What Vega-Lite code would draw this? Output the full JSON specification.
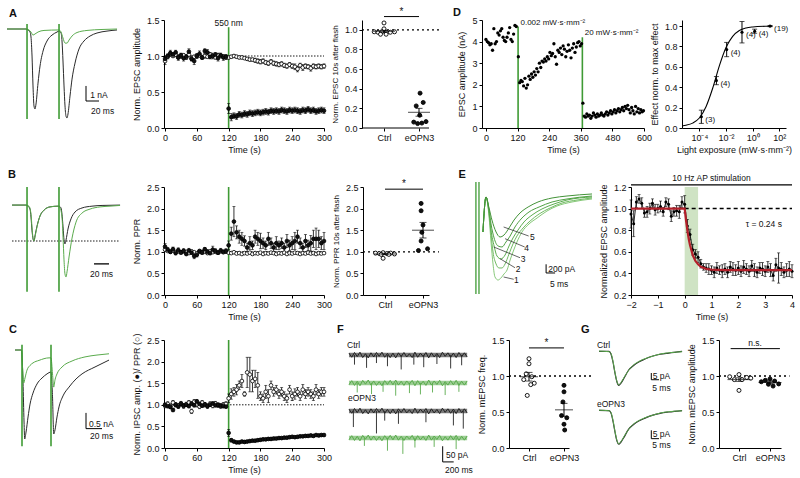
{
"$schema":"https://vega.github.io/schema/vega-lite/v6.json",
"padding":{"left":5,"top":0,"right":0,"bottom":0},
"config":{"font":"Liberation Sans","view":{"stroke":null},
"axis":{"grid":false,"domainColor":"#000","tickColor":"#000","labelColor":"#111","titleColor":"#111","labelFontSize":9,"titleFontSize":9,"titleFontWeight":"normal","tickSize":3,"labelPadding":2,"titlePadding":3,"domainWidth":1,"tickWidth":1,"labelFlush":false,"labelOverlap":false},
"axisY":{"titlePadding":5},
"text":{"fontSize":8.5,"color":"#111"}},
"datasets":{
"atrb":[{"t":0,"v":0},{"t":29.2,"v":0},{"t":32.3,"v":-0.06},{"t":35.4,"v":-0.19},{"t":36.9,"v":-0.5},{"t":38.5,"v":-1.69},{"t":40,"v":-3.56},{"t":41.5,"v":-4.81},{"t":43.1,"v":-5},{"t":44.6,"v":-4.69},{"t":47.7,"v":-3.38},{"t":50.8,"v":-2.31},{"t":55.4,"v":-1.38},{"t":61.5,"v":-0.75},{"t":69.2,"v":-0.38},{"t":76.9,"v":-0.19},{"t":80,"v":-0.13},{"t":83.1,"v":-0.25},{"t":84.6,"v":-0.75},{"t":86.1,"v":-2},{"t":87.7,"v":-3.56},{"t":89.2,"v":-4.81},{"t":90.7,"v":-5.44},{"t":92.3,"v":-5.56},{"t":93.8,"v":-5.31},{"t":96.9,"v":-4.19},{"t":100,"v":-3.13},{"t":104.6,"v":-2.13},{"t":110.7,"v":-1.25},{"t":118.4,"v":-0.75},{"t":127.7,"v":-0.44},{"t":138.4,"v":-0.25},{"t":153.8,"v":-0.13},{"t":169.2,"v":-0.06}],
"atrg":[{"t":0,"v":0},{"t":29.2,"v":0},{"t":33.8,"v":-0.06},{"t":36.9,"v":-0.19},{"t":40,"v":-0.38},{"t":43.1,"v":-0.31},{"t":47.7,"v":-0.19},{"t":56.9,"v":-0.09},{"t":80,"v":-0.06},{"t":83.1,"v":-0.19},{"t":86.1,"v":-0.56},{"t":89.2,"v":-0.88},{"t":92.3,"v":-0.88},{"t":95.4,"v":-0.69},{"t":100,"v":-0.44},{"t":107.7,"v":-0.22},{"t":123,"v":-0.09},{"t":146.1,"v":-0.03},{"t":169.2,"v":0}],
"btrb":[{"t":6.7,"v":-0.01},{"t":25.3,"v":-0.01},{"t":28,"v":-0.04},{"t":30.7,"v":-0.12},{"t":32,"v":-0.34},{"t":33.3,"v":-0.7},{"t":34.7,"v":-0.94},{"t":36,"v":-1},{"t":37.3,"v":-0.86},{"t":40,"v":-0.59},{"t":44,"v":-0.31},{"t":49.3,"v":-0.15},{"t":57.3,"v":-0.06},{"t":68,"v":-0.04},{"t":69.3,"v":-0.04},{"t":72,"v":-0.09},{"t":73.3,"v":-0.26},{"t":74.7,"v":-0.61},{"t":76,"v":-0.97},{"t":77.3,"v":-1.08},{"t":78.7,"v":-0.97},{"t":81.3,"v":-0.67},{"t":85.3,"v":-0.39},{"t":90.7,"v":-0.2},{"t":100,"v":-0.09},{"t":113.3,"v":-0.04},{"t":126.7,"v":-0.02},{"t":150.7,"v":-0.01}],
"btrg":[{"t":6.7,"v":-0.01},{"t":25.3,"v":-0.01},{"t":29.3,"v":-0.04},{"t":32,"v":-0.26},{"t":33.3,"v":-0.61},{"t":34.7,"v":-0.92},{"t":36,"v":-1},{"t":37.3,"v":-0.89},{"t":40,"v":-0.61},{"t":44,"v":-0.31},{"t":49.3,"v":-0.15},{"t":57.3,"v":-0.06},{"t":68,"v":-0.04},{"t":70.7,"v":-0.09},{"t":73.3,"v":-0.34},{"t":74.7,"v":-0.89},{"t":76,"v":-1.52},{"t":77.3,"v":-1.91},{"t":78.7,"v":-1.99},{"t":80,"v":-1.85},{"t":82.7,"v":-1.44},{"t":86.7,"v":-0.92},{"t":92,"v":-0.48},{"t":100,"v":-0.23},{"t":110.7,"v":-0.12},{"t":124,"v":-0.06},{"t":137.3,"v":-0.04},{"t":150.7,"v":-0.02}],
"ctrb":[{"t":10,"v":0},{"t":18.1,"v":0},{"t":20,"v":-1.02},{"t":21.3,"v":-2.29},{"t":22.1,"v":-2.83},{"t":23.8,"v":-2.61},{"t":26.3,"v":-2.13},{"t":28.8,"v":-1.72},{"t":32.5,"v":-1.37},{"t":37.5,"v":-1.08},{"t":43.8,"v":-0.89},{"t":50,"v":-0.76},{"t":55,"v":-0.7},{"t":56.9,"v":-1.49},{"t":58.4,"v":-2.67},{"t":60,"v":-2.54},{"t":62.5,"v":-2.13},{"t":65,"v":-1.81},{"t":70,"v":-1.46},{"t":77.5,"v":-1.18},{"t":86.3,"v":-0.92},{"t":93.8,"v":-0.76},{"t":110,"v":-0.54},{"t":127.5,"v":-0.32}],
"ctrg":[{"t":10,"v":0},{"t":18.1,"v":0},{"t":19.4,"v":-0.54},{"t":20.9,"v":-1.05},{"t":22.5,"v":-0.89},{"t":25,"v":-0.64},{"t":28.8,"v":-0.49},{"t":32.5,"v":-0.41},{"t":40,"v":-0.33},{"t":52.5,"v":-0.25},{"t":55,"v":-0.25},{"t":56.9,"v":-0.76},{"t":58.4,"v":-1.18},{"t":60,"v":-0.95},{"t":62.5,"v":-0.76},{"t":68.8,"v":-0.54},{"t":81.3,"v":-0.35},{"t":97.5,"v":-0.22},{"t":112.5,"v":-0.16},{"t":127.5,"v":-0.12}],
"etr":[
{"k":"1","t":8.3,"v":-777},{"k":"1","t":10,"v":0},{"k":"1","t":11.7,"v":-444},{"k":"1","t":12.8,"v":-999},{"k":"1","t":13.9,"v":-1487},{"k":"1","t":15,"v":-1776},{"k":"1","t":16.7,"v":-1843},{"k":"1","t":18.3,"v":-1798},{"k":"1","t":20,"v":-1710},{"k":"1","t":21.7,"v":-1621},{"k":"1","t":23.4,"v":-1399},{"k":"1","t":25,"v":-1221},{"k":"1","t":27.2,"v":-999},{"k":"1","t":30,"v":-777},{"k":"1","t":33.9,"v":-599},{"k":"1","t":38.4,"v":-466},{"k":"1","t":43.9,"v":-311},{"k":"1","t":49.5,"v":-200},{"k":"1","t":57.8,"v":-111},{"k":"1","t":68.9,"v":-44},
{"k":"2","t":8.3,"v":-777},{"k":"2","t":10,"v":0},{"k":"2","t":11.7,"v":-377},{"k":"2","t":12.8,"v":-821},{"k":"2","t":13.9,"v":-1221},{"k":"2","t":15.6,"v":-1487},{"k":"2","t":17.2,"v":-1576},{"k":"2","t":18.9,"v":-1576},{"k":"2","t":20.6,"v":-1487},{"k":"2","t":22.8,"v":-1265},{"k":"2","t":25,"v":-1043},{"k":"2","t":27.2,"v":-866},{"k":"2","t":30.6,"v":-688},{"k":"2","t":34.5,"v":-533},{"k":"2","t":39.5,"v":-377},{"k":"2","t":45.6,"v":-244},{"k":"2","t":52.3,"v":-133},{"k":"2","t":60.6,"v":-67},{"k":"2","t":68.9,"v":-22},
{"k":"3","t":8.3,"v":-777},{"k":"3","t":10,"v":0},{"k":"3","t":11.7,"v":-333},{"k":"3","t":12.8,"v":-733},{"k":"3","t":14.5,"v":-1088},{"k":"3","t":16.1,"v":-1310},{"k":"3","t":18.3,"v":-1376},{"k":"3","t":20.6,"v":-1288},{"k":"3","t":22.8,"v":-1088},{"k":"3","t":25,"v":-910},{"k":"3","t":27.8,"v":-733},{"k":"3","t":31.1,"v":-555},{"k":"3","t":35.6,"v":-400},{"k":"3","t":41.1,"v":-266},{"k":"3","t":47.8,"v":-155},{"k":"3","t":55,"v":-67},{"k":"3","t":68.9,"v":0},
{"k":"4","t":8.3,"v":-777},{"k":"4","t":10,"v":0},{"k":"4","t":11.7,"v":-289},{"k":"4","t":12.8,"v":-599},{"k":"4","t":14.5,"v":-910},{"k":"4","t":16.7,"v":-1088},{"k":"4","t":18.9,"v":-1110},{"k":"4","t":21.1,"v":-999},{"k":"4","t":23.4,"v":-866},{"k":"4","t":26.1,"v":-666},{"k":"4","t":29.5,"v":-488},{"k":"4","t":33.9,"v":-333},{"k":"4","t":39.5,"v":-222},{"k":"4","t":46.7,"v":-111},{"k":"4","t":55,"v":-44},{"k":"4","t":68.9,"v":22},
{"k":"5","t":8.3,"v":-777},{"k":"5","t":10,"v":0},{"k":"5","t":11.7,"v":-244},{"k":"5","t":13.3,"v":-511},{"k":"5","t":15.6,"v":-777},{"k":"5","t":17.8,"v":-888},{"k":"5","t":20,"v":-844},{"k":"5","t":22.8,"v":-688},{"k":"5","t":25.6,"v":-511},{"k":"5","t":28.9,"v":-355},{"k":"5","t":33.4,"v":-222},{"k":"5","t":38.9,"v":-111},{"k":"5","t":46.7,"v":-22},{"k":"5","t":55,"v":22},{"k":"5","t":68.9,"v":67}],
"ftrb":[
{"k":"c","t":200,"v":-41},{"k":"c","t":250,"v":-54},{"k":"c","t":300,"v":-39},{"k":"c","t":350,"v":-52},{"k":"c","t":400,"v":-38},{"k":"c","t":450,"v":-55},{"k":"c","t":500,"v":-43},{"k":"c","t":550,"v":-56},{"k":"c","t":600,"v":-40},{"k":"c","t":650,"v":-53},{"k":"c","t":700,"v":-39},{"k":"c","t":750,"v":-51},{"k":"c","t":800,"v":-38},{"k":"c","t":850,"v":-54},{"k":"c","t":900,"v":-42},{"k":"c","t":950,"v":-55},{"k":"c","t":1000,"v":-41},{"k":"c","t":1050,"v":-56},{"k":"c","t":1100,"v":-40},{"k":"c","t":1150,"v":-52},{"k":"c","t":1200,"v":-39},{"k":"c","t":1250,"v":-53},{"k":"c","t":1300,"v":-43},{"k":"c","t":1350,"v":-55},{"k":"c","t":1400,"v":-38},{"k":"c","t":1450,"v":-54},{"k":"c","t":1500,"v":-41},{"k":"c","t":1550,"v":-52},{"k":"c","t":1600,"v":-39},{"k":"c","t":1650,"v":-56},{"k":"c","t":1700,"v":-40},{"k":"c","t":1750,"v":-53},{"k":"c","t":1800,"v":-42},{"k":"c","t":1850,"v":-55},{"k":"c","t":1900,"v":-38},{"k":"c","t":1950,"v":-51},{"k":"c","t":2000,"v":-40},{"k":"c","t":2050,"v":-54},{"k":"c","t":2100,"v":-41},{"k":"c","t":2150,"v":-55},{"k":"c","t":2200,"v":-39},{"k":"c","t":2250,"v":-52},{"k":"c","t":2300,"v":-40},{"k":"c","t":2350,"v":-53},
{"k":"e","t":200,"v":-216},{"k":"e","t":250,"v":-229},{"k":"e","t":300,"v":-214},{"k":"e","t":350,"v":-227},{"k":"e","t":400,"v":-213},{"k":"e","t":450,"v":-230},{"k":"e","t":500,"v":-218},{"k":"e","t":550,"v":-231},{"k":"e","t":600,"v":-215},{"k":"e","t":650,"v":-228},{"k":"e","t":700,"v":-214},{"k":"e","t":750,"v":-226},{"k":"e","t":800,"v":-213},{"k":"e","t":850,"v":-229},{"k":"e","t":900,"v":-217},{"k":"e","t":950,"v":-230},{"k":"e","t":1000,"v":-216},{"k":"e","t":1050,"v":-231},{"k":"e","t":1100,"v":-215},{"k":"e","t":1150,"v":-227},{"k":"e","t":1200,"v":-214},{"k":"e","t":1250,"v":-228},{"k":"e","t":1300,"v":-218},{"k":"e","t":1350,"v":-230},{"k":"e","t":1400,"v":-213},{"k":"e","t":1450,"v":-229},{"k":"e","t":1500,"v":-216},{"k":"e","t":1550,"v":-227},{"k":"e","t":1600,"v":-214},{"k":"e","t":1650,"v":-231},{"k":"e","t":1700,"v":-215},{"k":"e","t":1750,"v":-228},{"k":"e","t":1800,"v":-217},{"k":"e","t":1850,"v":-230},{"k":"e","t":1900,"v":-213},{"k":"e","t":1950,"v":-226},{"k":"e","t":2000,"v":-215},{"k":"e","t":2050,"v":-229},{"k":"e","t":2100,"v":-216},{"k":"e","t":2150,"v":-230},{"k":"e","t":2200,"v":-214},{"k":"e","t":2250,"v":-227},{"k":"e","t":2300,"v":-215},{"k":"e","t":2350,"v":-228}],
"ftrg":[
{"k":"c","t":200,"v":-140},{"k":"c","t":250,"v":-127},{"k":"c","t":300,"v":-142},{"k":"c","t":350,"v":-129},{"k":"c","t":400,"v":-143},{"k":"c","t":450,"v":-126},{"k":"c","t":500,"v":-138},{"k":"c","t":550,"v":-125},{"k":"c","t":600,"v":-141},{"k":"c","t":650,"v":-128},{"k":"c","t":700,"v":-142},{"k":"c","t":750,"v":-130},{"k":"c","t":800,"v":-143},{"k":"c","t":850,"v":-127},{"k":"c","t":900,"v":-139},{"k":"c","t":950,"v":-126},{"k":"c","t":1000,"v":-140},{"k":"c","t":1050,"v":-125},{"k":"c","t":1100,"v":-141},{"k":"c","t":1150,"v":-129},{"k":"c","t":1200,"v":-142},{"k":"c","t":1250,"v":-128},{"k":"c","t":1300,"v":-138},{"k":"c","t":1350,"v":-126},{"k":"c","t":1400,"v":-143},{"k":"c","t":1450,"v":-127},{"k":"c","t":1500,"v":-140},{"k":"c","t":1550,"v":-129},{"k":"c","t":1600,"v":-142},{"k":"c","t":1650,"v":-125},{"k":"c","t":1700,"v":-141},{"k":"c","t":1750,"v":-128},{"k":"c","t":1800,"v":-139},{"k":"c","t":1850,"v":-126},{"k":"c","t":1900,"v":-143},{"k":"c","t":1950,"v":-130},{"k":"c","t":2000,"v":-141},{"k":"c","t":2050,"v":-127},{"k":"c","t":2100,"v":-140},{"k":"c","t":2150,"v":-126},{"k":"c","t":2200,"v":-142},{"k":"c","t":2250,"v":-129},{"k":"c","t":2300,"v":-141},{"k":"c","t":2350,"v":-128},
{"k":"e","t":200,"v":-312},{"k":"e","t":250,"v":-299},{"k":"e","t":300,"v":-314},{"k":"e","t":350,"v":-301},{"k":"e","t":400,"v":-315},{"k":"e","t":450,"v":-298},{"k":"e","t":500,"v":-310},{"k":"e","t":550,"v":-297},{"k":"e","t":600,"v":-313},{"k":"e","t":650,"v":-300},{"k":"e","t":700,"v":-314},{"k":"e","t":750,"v":-302},{"k":"e","t":800,"v":-315},{"k":"e","t":850,"v":-299},{"k":"e","t":900,"v":-311},{"k":"e","t":950,"v":-298},{"k":"e","t":1000,"v":-312},{"k":"e","t":1050,"v":-297},{"k":"e","t":1100,"v":-313},{"k":"e","t":1150,"v":-301},{"k":"e","t":1200,"v":-314},{"k":"e","t":1250,"v":-300},{"k":"e","t":1300,"v":-310},{"k":"e","t":1350,"v":-298},{"k":"e","t":1400,"v":-315},{"k":"e","t":1450,"v":-299},{"k":"e","t":1500,"v":-312},{"k":"e","t":1550,"v":-301},{"k":"e","t":1600,"v":-314},{"k":"e","t":1650,"v":-297},{"k":"e","t":1700,"v":-313},{"k":"e","t":1750,"v":-300},{"k":"e","t":1800,"v":-311},{"k":"e","t":1850,"v":-298},{"k":"e","t":1900,"v":-315},{"k":"e","t":1950,"v":-302},{"k":"e","t":2000,"v":-313},{"k":"e","t":2050,"v":-299},{"k":"e","t":2100,"v":-312},{"k":"e","t":2150,"v":-298},{"k":"e","t":2200,"v":-314},{"k":"e","t":2250,"v":-301},{"k":"e","t":2300,"v":-313},{"k":"e","t":2350,"v":-300}],
"fspb":[{"t":300,"b":-47,"v":-77},{"t":520,"b":-47,"v":-87},{"t":700,"b":-47,"v":-72},{"t":900,"b":-47,"v":-82},{"t":1150,"b":-47,"v":-92},{"t":1380,"b":-47,"v":-77},{"t":1560,"b":-47,"v":-85},{"t":1800,"b":-47,"v":-75},{"t":2050,"b":-47,"v":-89},{"t":2250,"b":-47,"v":-79},{"t":280,"b":-222,"v":-272},{"t":700,"b":-222,"v":-292},{"t":850,"b":-222,"v":-252},{"t":1100,"b":-222,"v":-262},{"t":1600,"b":-222,"v":-257},{"t":2100,"b":-222,"v":-267},{"t":2280,"b":-222,"v":-277}],
"fspg":[{"t":350,"b":-134,"v":-164},{"t":610,"b":-134,"v":-169},{"t":820,"b":-134,"v":-162},{"t":1050,"b":-134,"v":-174},{"t":1300,"b":-134,"v":-166},{"t":1500,"b":-134,"v":-170},{"t":1720,"b":-134,"v":-164},{"t":1950,"b":-134,"v":-172},{"t":2200,"b":-134,"v":-162},{"t":480,"b":-306,"v":-331},{"t":900,"b":-306,"v":-346},{"t":1180,"b":-306,"v":-356},{"t":1400,"b":-306,"v":-336},{"t":1750,"b":-306,"v":-334},{"t":2150,"b":-306,"v":-341}],
"gtrb":[{"k":"c","t":10.4,"v":-8.5},{"k":"c","t":16.9,"v":-8.6},{"k":"c","t":18.2,"v":-10.5},{"k":"c","t":19.5,"v":-16.5},{"k":"c","t":20.8,"v":-24.8},{"k":"c","t":22.1,"v":-31.5},{"k":"c","t":23.2,"v":-34},{"k":"c","t":24.7,"v":-32.3},{"k":"c","t":26.7,"v":-28.5},{"k":"c","t":29.7,"v":-22.5},{"k":"c","t":32.5,"v":-19.5},{"k":"c","t":36.2,"v":-16.5},{"k":"c","t":40.3,"v":-14.3},{"k":"c","t":44.9,"v":-12.2},{"k":"c","t":50.1,"v":-10.7},{"k":"c","t":55.7,"v":-9.8},{"k":"c","t":64.4,"v":-8.6},
{"k":"e","t":10.4,"v":-52.8},{"k":"e","t":16.9,"v":-52.9},{"k":"e","t":18.2,"v":-54.8},{"k":"e","t":19.5,"v":-60.8},{"k":"e","t":20.8,"v":-69},{"k":"e","t":22.1,"v":-75.8},{"k":"e","t":23.2,"v":-78.2},{"k":"e","t":24.7,"v":-76.5},{"k":"e","t":26.7,"v":-72.8},{"k":"e","t":29.7,"v":-66.8},{"k":"e","t":32.5,"v":-63.8},{"k":"e","t":36.2,"v":-60.8},{"k":"e","t":40.3,"v":-58.6},{"k":"e","t":44.9,"v":-56.5},{"k":"e","t":50.1,"v":-55},{"k":"e","t":55.7,"v":-54},{"k":"e","t":64.4,"v":-52.9}],
"gtrg":[{"k":"c","t":10.4,"v":-8.3},{"k":"c","t":16.9,"v":-8.8},{"k":"c","t":18.2,"v":-10.2},{"k":"c","t":19.5,"v":-16},{"k":"c","t":20.8,"v":-24.5},{"k":"c","t":22.1,"v":-31.2},{"k":"c","t":23.2,"v":-33.7},{"k":"c","t":24.7,"v":-32},{"k":"c","t":26.7,"v":-28},{"k":"c","t":29.7,"v":-22.8},{"k":"c","t":32.5,"v":-19},{"k":"c","t":36.2,"v":-16.2},{"k":"c","t":40.3,"v":-14},{"k":"c","t":44.9,"v":-12.3},{"k":"c","t":50.1,"v":-10.5},{"k":"c","t":55.7,"v":-9.6},{"k":"c","t":64.4,"v":-8.8},
{"k":"e","t":10.4,"v":-52.6},{"k":"e","t":16.9,"v":-53.1},{"k":"e","t":18.2,"v":-54.5},{"k":"e","t":19.5,"v":-60.3},{"k":"e","t":20.8,"v":-68.6},{"k":"e","t":22.1,"v":-75.4},{"k":"e","t":23.2,"v":-77.9},{"k":"e","t":24.7,"v":-76.2},{"k":"e","t":26.7,"v":-72.3},{"k":"e","t":29.7,"v":-67},{"k":"e","t":32.5,"v":-63.3},{"k":"e","t":36.2,"v":-60.5},{"k":"e","t":40.3,"v":-58.3},{"k":"e","t":44.9,"v":-56.6},{"k":"e","t":50.1,"v":-54.8},{"k":"e","t":55.7,"v":-53.8},{"k":"e","t":64.4,"v":-53.1}],
"ta":[
{"t":0,"g":"c","v":0.93,"e":0.05},{"t":5,"g":"c","v":0.99,"e":0.03},{"t":10,"g":"c","v":1.03,"e":0.03},{"t":15,"g":"c","v":1.0,"e":0.02},{"t":20,"g":"c","v":1.02,"e":0.03},{"t":25,"g":"c","v":0.98,"e":0.02},{"t":30,"g":"c","v":1.0,"e":0.03},{"t":35,"g":"c","v":1.01,"e":0.02},{"t":40,"g":"c","v":0.98,"e":0.03},{"t":45,"g":"c","v":1.02,"e":0.02},{"t":50,"g":"c","v":0.97,"e":0.03},{"t":55,"g":"c","v":0.99,"e":0.02},{"t":60,"g":"c","v":1.0,"e":0.03},{"t":65,"g":"c","v":1.01,"e":0.02},{"t":70,"g":"c","v":0.98,"e":0.02},{"t":75,"g":"c","v":1.0,"e":0.03},{"t":80,"g":"c","v":0.99,"e":0.02},{"t":85,"g":"c","v":1.02,"e":0.03},{"t":90,"g":"c","v":1.0,"e":0.02},{"t":95,"g":"c","v":0.98,"e":0.02},{"t":100,"g":"c","v":1.01,"e":0.03},{"t":105,"g":"c","v":1.0,"e":0.02},{"t":110,"g":"c","v":0.99,"e":0.02},{"t":115,"g":"c","v":0.98,"e":0.03},
{"t":120,"g":"c","v":0.98,"e":0.02},{"t":125,"g":"c","v":0.99,"e":0.02},{"t":130,"g":"c","v":1.0,"e":0.02},{"t":135,"g":"c","v":0.99,"e":0.02},{"t":140,"g":"c","v":0.98,"e":0.02},{"t":145,"g":"c","v":0.98,"e":0.02},{"t":150,"g":"c","v":0.97,"e":0.02},{"t":155,"g":"c","v":0.96,"e":0.02},{"t":160,"g":"c","v":0.95,"e":0.02},{"t":165,"g":"c","v":0.95,"e":0.02},{"t":170,"g":"c","v":0.94,"e":0.03},{"t":175,"g":"c","v":0.93,"e":0.03},{"t":180,"g":"c","v":0.92,"e":0.03},{"t":185,"g":"c","v":0.93,"e":0.03},{"t":190,"g":"c","v":0.91,"e":0.03},{"t":195,"g":"c","v":0.9,"e":0.03},{"t":200,"g":"c","v":0.92,"e":0.03},{"t":205,"g":"c","v":0.9,"e":0.03},{"t":210,"g":"c","v":0.89,"e":0.03},{"t":215,"g":"c","v":0.88,"e":0.03},{"t":220,"g":"c","v":0.89,"e":0.03},{"t":225,"g":"c","v":0.87,"e":0.03},{"t":230,"g":"c","v":0.86,"e":0.03},{"t":235,"g":"c","v":0.88,"e":0.03},{"t":240,"g":"c","v":0.86,"e":0.03},{"t":245,"g":"c","v":0.85,"e":0.04},{"t":250,"g":"c","v":0.82,"e":0.04},{"t":255,"g":"c","v":0.87,"e":0.03},{"t":260,"g":"c","v":0.84,"e":0.04},{"t":265,"g":"c","v":0.86,"e":0.03},{"t":270,"g":"c","v":0.85,"e":0.03},{"t":275,"g":"c","v":0.83,"e":0.04},{"t":280,"g":"c","v":0.86,"e":0.03},{"t":285,"g":"c","v":0.85,"e":0.03},{"t":290,"g":"c","v":0.86,"e":0.03},{"t":295,"g":"c","v":0.85,"e":0.03},{"t":300,"g":"c","v":0.86,"e":0.03},
{"t":0,"g":"e","v":0.96,"e":0.04},{"t":5,"g":"e","v":1.0,"e":0.03},{"t":10,"g":"e","v":1.04,"e":0.04},{"t":15,"g":"e","v":1.02,"e":0.03},{"t":20,"g":"e","v":1.05,"e":0.03},{"t":25,"g":"e","v":0.98,"e":0.04},{"t":30,"g":"e","v":1.01,"e":0.03},{"t":35,"g":"e","v":0.97,"e":0.04},{"t":40,"g":"e","v":0.99,"e":0.03},{"t":45,"g":"e","v":1.06,"e":0.04},{"t":50,"g":"e","v":0.96,"e":0.03},{"t":55,"g":"e","v":0.93,"e":0.05},{"t":60,"g":"e","v":1.0,"e":0.03},{"t":65,"g":"e","v":1.03,"e":0.04},{"t":70,"g":"e","v":0.98,"e":0.03},{"t":75,"g":"e","v":1.07,"e":0.03},{"t":80,"g":"e","v":1.05,"e":0.04},{"t":85,"g":"e","v":0.99,"e":0.03},{"t":90,"g":"e","v":1.0,"e":0.04},{"t":95,"g":"e","v":1.02,"e":0.03},{"t":100,"g":"e","v":0.97,"e":0.04},{"t":105,"g":"e","v":1.01,"e":0.03},{"t":110,"g":"e","v":0.98,"e":0.04},{"t":115,"g":"e","v":0.99,"e":0.03},
{"t":120,"g":"e","v":0.27,"e":0.07},{"t":125,"g":"e","v":0.15,"e":0.05},{"t":130,"g":"e","v":0.17,"e":0.04},{"t":135,"g":"e","v":0.16,"e":0.04},{"t":140,"g":"e","v":0.19,"e":0.04},{"t":145,"g":"e","v":0.18,"e":0.04},{"t":150,"g":"e","v":0.2,"e":0.04},{"t":155,"g":"e","v":0.19,"e":0.04},{"t":160,"g":"e","v":0.21,"e":0.04},{"t":165,"g":"e","v":0.2,"e":0.04},{"t":170,"g":"e","v":0.21,"e":0.04},{"t":175,"g":"e","v":0.22,"e":0.04},{"t":180,"g":"e","v":0.21,"e":0.04},{"t":185,"g":"e","v":0.22,"e":0.04},{"t":190,"g":"e","v":0.23,"e":0.04},{"t":195,"g":"e","v":0.22,"e":0.04},{"t":200,"g":"e","v":0.24,"e":0.04},{"t":205,"g":"e","v":0.23,"e":0.04},{"t":210,"g":"e","v":0.24,"e":0.04},{"t":215,"g":"e","v":0.23,"e":0.04},{"t":220,"g":"e","v":0.25,"e":0.04},{"t":225,"g":"e","v":0.24,"e":0.04},{"t":230,"g":"e","v":0.23,"e":0.04},{"t":235,"g":"e","v":0.25,"e":0.04},{"t":240,"g":"e","v":0.24,"e":0.04},{"t":245,"g":"e","v":0.25,"e":0.04},{"t":250,"g":"e","v":0.24,"e":0.04},{"t":255,"g":"e","v":0.23,"e":0.04},{"t":260,"g":"e","v":0.25,"e":0.04},{"t":265,"g":"e","v":0.24,"e":0.04},{"t":270,"g":"e","v":0.26,"e":0.04},{"t":275,"g":"e","v":0.24,"e":0.04},{"t":280,"g":"e","v":0.25,"e":0.04},{"t":285,"g":"e","v":0.23,"e":0.04},{"t":290,"g":"e","v":0.24,"e":0.04},{"t":295,"g":"e","v":0.25,"e":0.04},{"t":300,"g":"e","v":0.24,"e":0.04}],
"tb":[
{"t":0,"g":"c","v":1.05,"e":0.03},{"t":5,"g":"c","v":1.02,"e":0.02},{"t":10,"g":"c","v":1.0,"e":0.03},{"t":15,"g":"c","v":1.03,"e":0.02},{"t":20,"g":"c","v":0.99,"e":0.03},{"t":25,"g":"c","v":1.01,"e":0.02},{"t":30,"g":"c","v":0.98,"e":0.03},{"t":35,"g":"c","v":1.02,"e":0.02},{"t":40,"g":"c","v":1.0,"e":0.03},{"t":45,"g":"c","v":0.97,"e":0.02},{"t":50,"g":"c","v":1.01,"e":0.03},{"t":55,"g":"c","v":0.99,"e":0.02},{"t":60,"g":"c","v":0.96,"e":0.03},{"t":65,"g":"c","v":1.02,"e":0.02},{"t":70,"g":"c","v":0.98,"e":0.03},{"t":75,"g":"c","v":1.0,"e":0.02},{"t":80,"g":"c","v":0.97,"e":0.03},{"t":85,"g":"c","v":1.01,"e":0.02},{"t":90,"g":"c","v":0.99,"e":0.03},{"t":95,"g":"c","v":1.0,"e":0.02},{"t":100,"g":"c","v":0.98,"e":0.03},{"t":105,"g":"c","v":1.01,"e":0.02},{"t":110,"g":"c","v":0.99,"e":0.03},{"t":115,"g":"c","v":1.0,"e":0.02},
{"t":120,"g":"c","v":0.98,"e":0.02},{"t":125,"g":"c","v":0.97,"e":0.02},{"t":130,"g":"c","v":0.99,"e":0.02},{"t":135,"g":"c","v":0.96,"e":0.02},{"t":140,"g":"c","v":0.97,"e":0.02},{"t":145,"g":"c","v":0.95,"e":0.02},{"t":150,"g":"c","v":0.97,"e":0.02},{"t":155,"g":"c","v":0.96,"e":0.02},{"t":160,"g":"c","v":0.98,"e":0.02},{"t":165,"g":"c","v":0.95,"e":0.02},{"t":170,"g":"c","v":0.97,"e":0.02},{"t":175,"g":"c","v":0.96,"e":0.02},{"t":180,"g":"c","v":0.98,"e":0.02},{"t":185,"g":"c","v":0.95,"e":0.02},{"t":190,"g":"c","v":0.97,"e":0.02},{"t":195,"g":"c","v":0.96,"e":0.02},{"t":200,"g":"c","v":0.98,"e":0.02},{"t":205,"g":"c","v":0.97,"e":0.02},{"t":210,"g":"c","v":0.95,"e":0.02},{"t":215,"g":"c","v":0.97,"e":0.02},{"t":220,"g":"c","v":0.96,"e":0.02},{"t":225,"g":"c","v":0.98,"e":0.02},{"t":230,"g":"c","v":0.95,"e":0.02},{"t":235,"g":"c","v":0.97,"e":0.02},{"t":240,"g":"c","v":0.96,"e":0.02},{"t":245,"g":"c","v":0.98,"e":0.02},{"t":250,"g":"c","v":0.97,"e":0.02},{"t":255,"g":"c","v":0.95,"e":0.02},{"t":260,"g":"c","v":0.97,"e":0.02},{"t":265,"g":"c","v":0.96,"e":0.02},{"t":270,"g":"c","v":0.98,"e":0.02},{"t":275,"g":"c","v":0.96,"e":0.02},{"t":280,"g":"c","v":0.97,"e":0.02},{"t":285,"g":"c","v":0.95,"e":0.02},{"t":290,"g":"c","v":0.97,"e":0.02},{"t":295,"g":"c","v":0.96,"e":0.02},{"t":300,"g":"c","v":0.97,"e":0.02},
{"t":0,"g":"e","v":1.12,"e":0.07},{"t":5,"g":"e","v":1.05,"e":0.05},{"t":10,"g":"e","v":1.0,"e":0.04},{"t":15,"g":"e","v":1.06,"e":0.05},{"t":20,"g":"e","v":0.97,"e":0.04},{"t":25,"g":"e","v":1.04,"e":0.05},{"t":30,"g":"e","v":0.99,"e":0.04},{"t":35,"g":"e","v":1.02,"e":0.05},{"t":40,"g":"e","v":0.95,"e":0.04},{"t":45,"g":"e","v":1.03,"e":0.05},{"t":50,"g":"e","v":0.98,"e":0.04},{"t":55,"g":"e","v":0.9,"e":0.06},{"t":60,"g":"e","v":0.93,"e":0.05},{"t":65,"g":"e","v":1.01,"e":0.04},{"t":70,"g":"e","v":0.99,"e":0.05},{"t":75,"g":"e","v":1.06,"e":0.04},{"t":80,"g":"e","v":1.0,"e":0.05},{"t":85,"g":"e","v":0.97,"e":0.04},{"t":90,"g":"e","v":1.05,"e":0.08},{"t":95,"g":"e","v":1.02,"e":0.05},{"t":100,"g":"e","v":0.98,"e":0.04},{"t":105,"g":"e","v":1.03,"e":0.05},{"t":110,"g":"e","v":1.0,"e":0.04},{"t":115,"g":"e","v":1.02,"e":0.05},
{"t":120,"g":"e","v":1.15,"e":0.1},{"t":125,"g":"e","v":1.42,"e":0.15},{"t":130,"g":"e","v":1.7,"e":0.35},{"t":135,"g":"e","v":1.45,"e":0.15},{"t":140,"g":"e","v":1.35,"e":0.15},{"t":145,"g":"e","v":1.3,"e":0.15},{"t":150,"g":"e","v":1.25,"e":0.12},{"t":155,"g":"e","v":1.1,"e":0.1},{"t":160,"g":"e","v":1.2,"e":0.15},{"t":165,"g":"e","v":1.15,"e":0.1},{"t":170,"g":"e","v":1.35,"e":0.15},{"t":175,"g":"e","v":1.3,"e":0.15},{"t":180,"g":"e","v":1.25,"e":0.18},{"t":185,"g":"e","v":1.2,"e":0.12},{"t":190,"g":"e","v":1.15,"e":0.1},{"t":195,"g":"e","v":1.3,"e":0.15},{"t":200,"g":"e","v":1.2,"e":0.12},{"t":205,"g":"e","v":1.1,"e":0.1},{"t":210,"g":"e","v":1.2,"e":0.15},{"t":215,"g":"e","v":1.15,"e":0.1},{"t":220,"g":"e","v":1.2,"e":0.12},{"t":225,"g":"e","v":1.1,"e":0.1},{"t":230,"g":"e","v":1.25,"e":0.15},{"t":235,"g":"e","v":1.15,"e":0.12},{"t":240,"g":"e","v":1.2,"e":0.15},{"t":245,"g":"e","v":1.25,"e":0.2},{"t":250,"g":"e","v":1.35,"e":0.15},{"t":255,"g":"e","v":1.2,"e":0.12},{"t":260,"g":"e","v":1.1,"e":0.1},{"t":265,"g":"e","v":1.25,"e":0.15},{"t":270,"g":"e","v":1.15,"e":0.12},{"t":275,"g":"e","v":1.2,"e":0.18},{"t":280,"g":"e","v":1.3,"e":0.2},{"t":285,"g":"e","v":1.3,"e":0.25},{"t":290,"g":"e","v":1.3,"e":0.2},{"t":295,"g":"e","v":1.2,"e":0.15},{"t":300,"g":"e","v":1.25,"e":0.2}],
"tc":[
{"t":0,"g":"c","v":0.98,"e":0.05},{"t":5,"g":"c","v":1.02,"e":0.05},{"t":10,"g":"c","v":0.97,"e":0.05},{"t":15,"g":"c","v":1.05,"e":0.05},{"t":20,"g":"c","v":1.0,"e":0.05},{"t":25,"g":"c","v":0.98,"e":0.05},{"t":30,"g":"c","v":1.03,"e":0.05},{"t":35,"g":"c","v":0.97,"e":0.05},{"t":40,"g":"c","v":1.01,"e":0.05},{"t":45,"g":"c","v":1.05,"e":0.05},{"t":50,"g":"c","v":0.85,"e":0.05},{"t":55,"g":"c","v":1.07,"e":0.05},{"t":60,"g":"c","v":1.0,"e":0.05},{"t":65,"g":"c","v":0.96,"e":0.05},{"t":70,"g":"c","v":1.05,"e":0.05},{"t":75,"g":"c","v":1.0,"e":0.05},{"t":80,"g":"c","v":0.97,"e":0.05},{"t":85,"g":"c","v":1.02,"e":0.05},{"t":90,"g":"c","v":0.98,"e":0.05},{"t":95,"g":"c","v":1.03,"e":0.05},{"t":100,"g":"c","v":0.99,"e":0.05},{"t":105,"g":"c","v":0.97,"e":0.05},{"t":110,"g":"c","v":1.0,"e":0.05},{"t":115,"g":"c","v":1.02,"e":0.05},
{"t":120,"g":"c","v":1.15,"e":0.1},{"t":125,"g":"c","v":1.25,"e":0.12},{"t":130,"g":"c","v":1.3,"e":0.1},{"t":135,"g":"c","v":1.35,"e":0.12},{"t":140,"g":"c","v":1.45,"e":0.1},{"t":145,"g":"c","v":1.55,"e":0.15},{"t":150,"g":"c","v":1.25,"e":0.05},{"t":155,"g":"c","v":1.75,"e":0.35},{"t":160,"g":"c","v":1.7,"e":0.4},{"t":165,"g":"c","v":1.55,"e":0.25},{"t":170,"g":"c","v":1.6,"e":0.2},{"t":175,"g":"c","v":1.45,"e":0.3},{"t":180,"g":"c","v":1.2,"e":0.1},{"t":185,"g":"c","v":1.15,"e":0.1},{"t":190,"g":"c","v":1.3,"e":0.15},{"t":195,"g":"c","v":1.2,"e":0.15},{"t":200,"g":"c","v":1.45,"e":0.1},{"t":205,"g":"c","v":1.3,"e":0.1},{"t":210,"g":"c","v":1.35,"e":0.1},{"t":215,"g":"c","v":1.25,"e":0.1},{"t":220,"g":"c","v":1.3,"e":0.1},{"t":225,"g":"c","v":1.2,"e":0.1},{"t":230,"g":"c","v":1.15,"e":0.1},{"t":235,"g":"c","v":1.35,"e":0.1},{"t":240,"g":"c","v":1.2,"e":0.1},{"t":245,"g":"c","v":1.25,"e":0.12},{"t":250,"g":"c","v":1.3,"e":0.1},{"t":255,"g":"c","v":1.2,"e":0.1},{"t":260,"g":"c","v":1.35,"e":0.12},{"t":265,"g":"c","v":1.25,"e":0.1},{"t":270,"g":"c","v":1.3,"e":0.1},{"t":275,"g":"c","v":1.25,"e":0.1},{"t":280,"g":"c","v":1.2,"e":0.1},{"t":285,"g":"c","v":1.35,"e":0.12},{"t":290,"g":"c","v":1.25,"e":0.1},{"t":295,"g":"c","v":1.3,"e":0.1},{"t":300,"g":"c","v":1.3,"e":0.1},
{"t":0,"g":"e","v":1.0,"e":0.04},{"t":5,"g":"e","v":0.97,"e":0.04},{"t":10,"g":"e","v":0.95,"e":0.04},{"t":15,"g":"e","v":0.88,"e":0.04},{"t":20,"g":"e","v":1.0,"e":0.04},{"t":25,"g":"e","v":0.96,"e":0.04},{"t":30,"g":"e","v":1.02,"e":0.04},{"t":35,"g":"e","v":0.98,"e":0.04},{"t":40,"g":"e","v":1.0,"e":0.04},{"t":45,"g":"e","v":0.97,"e":0.04},{"t":50,"g":"e","v":1.03,"e":0.04},{"t":55,"g":"e","v":0.99,"e":0.04},{"t":60,"g":"e","v":1.08,"e":0.04},{"t":65,"g":"e","v":1.02,"e":0.04},{"t":70,"g":"e","v":0.98,"e":0.04},{"t":75,"g":"e","v":1.01,"e":0.04},{"t":80,"g":"e","v":0.97,"e":0.04},{"t":85,"g":"e","v":1.0,"e":0.04},{"t":90,"g":"e","v":1.03,"e":0.04},{"t":95,"g":"e","v":0.99,"e":0.04},{"t":100,"g":"e","v":1.0,"e":0.04},{"t":105,"g":"e","v":0.98,"e":0.04},{"t":110,"g":"e","v":0.97,"e":0.04},{"t":115,"g":"e","v":0.96,"e":0.04},
{"t":120,"g":"e","v":0.35,"e":0.08},{"t":125,"g":"e","v":0.18,"e":0.04},{"t":130,"g":"e","v":0.15,"e":0.03},{"t":135,"g":"e","v":0.13,"e":0.03},{"t":140,"g":"e","v":0.13,"e":0.03},{"t":145,"g":"e","v":0.15,"e":0.03},{"t":150,"g":"e","v":0.14,"e":0.03},{"t":155,"g":"e","v":0.15,"e":0.03},{"t":160,"g":"e","v":0.16,"e":0.03},{"t":165,"g":"e","v":0.17,"e":0.03},{"t":170,"g":"e","v":0.17,"e":0.03},{"t":175,"g":"e","v":0.18,"e":0.03},{"t":180,"g":"e","v":0.19,"e":0.03},{"t":185,"g":"e","v":0.2,"e":0.03},{"t":190,"g":"e","v":0.2,"e":0.03},{"t":195,"g":"e","v":0.21,"e":0.03},{"t":200,"g":"e","v":0.21,"e":0.03},{"t":205,"g":"e","v":0.22,"e":0.03},{"t":210,"g":"e","v":0.22,"e":0.03},{"t":215,"g":"e","v":0.23,"e":0.03},{"t":220,"g":"e","v":0.23,"e":0.03},{"t":225,"g":"e","v":0.24,"e":0.03},{"t":230,"g":"e","v":0.24,"e":0.03},{"t":235,"g":"e","v":0.25,"e":0.03},{"t":240,"g":"e","v":0.26,"e":0.03},{"t":245,"g":"e","v":0.25,"e":0.03},{"t":250,"g":"e","v":0.26,"e":0.03},{"t":255,"g":"e","v":0.27,"e":0.03},{"t":260,"g":"e","v":0.27,"e":0.03},{"t":265,"g":"e","v":0.28,"e":0.03},{"t":270,"g":"e","v":0.28,"e":0.03},{"t":275,"g":"e","v":0.29,"e":0.03},{"t":280,"g":"e","v":0.28,"e":0.03},{"t":285,"g":"e","v":0.3,"e":0.03},{"t":290,"g":"e","v":0.29,"e":0.03},{"t":295,"g":"e","v":0.3,"e":0.03},{"t":300,"g":"e","v":0.3,"e":0.03}],
"d":[{"t":0,"v":4.1},{"t":5,"v":4.0},{"t":10,"v":3.95},{"t":15,"v":3.85},{"t":20,"v":3.9},{"t":25,"v":3.6},{"t":30,"v":4.6},{"t":35,"v":3.9},{"t":40,"v":4.0},{"t":45,"v":4.4},{"t":50,"v":4.3},{"t":55,"v":4.5},{"t":60,"v":4.6},{"t":65,"v":4.2},{"t":70,"v":4.05},{"t":75,"v":4.0},{"t":80,"v":4.2},{"t":85,"v":4.4},{"t":90,"v":4.65},{"t":95,"v":4.1},{"t":100,"v":4.0},{"t":105,"v":4.35},{"t":110,"v":4.75},{"t":115,"v":4.7},
{"t":123,"v":3.3},{"t":128,"v":2.1},{"t":133,"v":2.2},{"t":138,"v":2.15},{"t":143,"v":1.95},{"t":148,"v":2.3},{"t":153,"v":1.85},{"t":158,"v":2.0},{"t":163,"v":2.4},{"t":168,"v":2.25},{"t":173,"v":2.5},{"t":178,"v":2.35},{"t":183,"v":2.6},{"t":188,"v":2.45},{"t":193,"v":2.75},{"t":198,"v":2.6},{"t":203,"v":3.0},{"t":208,"v":2.8},{"t":213,"v":3.1},{"t":218,"v":3.05},{"t":223,"v":3.2},{"t":228,"v":3.1},{"t":233,"v":3.3},{"t":238,"v":3.2},{"t":243,"v":3.5},{"t":248,"v":3.35},{"t":253,"v":3.45},{"t":258,"v":3.9},{"t":263,"v":3.3},{"t":268,"v":2.95},{"t":273,"v":3.6},{"t":278,"v":3.5},{"t":283,"v":3.7},{"t":288,"v":3.4},{"t":293,"v":3.8},{"t":298,"v":3.65},{"t":303,"v":3.3},{"t":308,"v":3.55},{"t":313,"v":3.85},{"t":318,"v":3.6},{"t":323,"v":3.25},{"t":328,"v":3.7},{"t":333,"v":3.9},{"t":338,"v":3.5},{"t":343,"v":3.75},{"t":348,"v":3.95},{"t":353,"v":4.0},{"t":358,"v":3.8},{"t":363,"v":3.9},
{"t":368,"v":1.15},{"t":373,"v":0.55},{"t":378,"v":0.5},{"t":383,"v":0.65},{"t":388,"v":0.55},{"t":393,"v":0.6},{"t":398,"v":0.45},{"t":403,"v":0.55},{"t":408,"v":0.7},{"t":413,"v":0.6},{"t":418,"v":0.5},{"t":423,"v":0.65},{"t":428,"v":0.55},{"t":433,"v":0.6},{"t":438,"v":0.7},{"t":443,"v":0.6},{"t":448,"v":0.55},{"t":453,"v":0.65},{"t":458,"v":0.75},{"t":463,"v":0.6},{"t":468,"v":0.7},{"t":473,"v":0.8},{"t":478,"v":0.65},{"t":483,"v":0.75},{"t":488,"v":0.85},{"t":493,"v":0.7},{"t":498,"v":0.8},{"t":503,"v":0.9},{"t":508,"v":0.75},{"t":513,"v":0.85},{"t":518,"v":0.95},{"t":523,"v":0.8},{"t":528,"v":1.0},{"t":533,"v":0.9},{"t":538,"v":1.05},{"t":543,"v":0.85},{"t":548,"v":0.7},{"t":553,"v":0.95},{"t":558,"v":0.8},{"t":563,"v":0.65},{"t":568,"v":1.0},{"t":573,"v":0.75},{"t":578,"v":0.9},{"t":583,"v":0.7},{"t":588,"v":0.85},{"t":593,"v":0.75},{"t":598,"v":0.8}],
"dc":[{"x":5e-6,"y":0.02},{"x":1e-5,"y":0.027},{"x":3.16e-5,"y":0.048},{"x":1e-4,"y":0.098},{"x":3.16e-4,"y":0.209},{"x":1e-3,"y":0.39},{"x":3.16e-3,"y":0.61},{"x":1e-2,"y":0.79},{"x":3.16e-2,"y":0.9},{"x":0.1,"y":0.957},{"x":0.316,"y":0.982},{"x":1,"y":0.992},{"x":10,"y":0.999},{"x":30,"y":1}],
"dp":[{"x":1.41e-4,"y":0.11,"e":0.065,"n":"(3)"},{"x":1.9e-3,"y":0.465,"e":0.04,"n":"(4)"},{"x":1.12e-2,"y":0.77,"e":0.07,"n":"(4)"},{"x":0.158,"y":0.94,"e":0.105,"n":"(4)"},{"x":1.41,"y":0.95,"e":0.02,"n":"(4)"},{"x":20,"y":1.0,"e":0.005,"n":"(19)"}],
"et":[{"t":-2,"v":0.95,"e":0.13},{"t":-1.9,"v":0.86,"e":0.12},{"t":-1.8,"v":1.06,"e":0.05},{"t":-1.7,"v":1.09,"e":0.04},{"t":-1.6,"v":1.05,"e":0.05},{"t":-1.5,"v":0.96,"e":0.04},{"t":-1.4,"v":0.97,"e":0.05},{"t":-1.3,"v":1.0,"e":0.05},{"t":-1.2,"v":1.05,"e":0.04},{"t":-1.1,"v":0.99,"e":0.05},{"t":-1,"v":1.0,"e":0.04},{"t":-0.9,"v":1.02,"e":0.05},{"t":-0.8,"v":0.97,"e":0.04},{"t":-0.7,"v":1.06,"e":0.04},{"t":-0.6,"v":1.04,"e":0.05},{"t":-0.5,"v":0.93,"e":0.05},{"t":-0.4,"v":0.97,"e":0.04},{"t":-0.3,"v":0.98,"e":0.05},{"t":-0.2,"v":0.97,"e":0.06},{"t":-0.1,"v":1.06,"e":0.05},{"t":0,"v":1.04,"e":0.08},{"t":0.1,"v":0.84,"e":0.06},{"t":0.2,"v":0.76,"e":0.05},{"t":0.3,"v":0.62,"e":0.05},{"t":0.4,"v":0.58,"e":0.04},{"t":0.5,"v":0.55,"e":0.05},{"t":0.6,"v":0.49,"e":0.04},{"t":0.7,"v":0.46,"e":0.03},{"t":0.8,"v":0.45,"e":0.04},{"t":0.9,"v":0.44,"e":0.05},{"t":1,"v":0.43,"e":0.04},{"t":1.1,"v":0.41,"e":0.05},{"t":1.2,"v":0.45,"e":0.05},{"t":1.3,"v":0.43,"e":0.04},{"t":1.4,"v":0.42,"e":0.06},{"t":1.5,"v":0.44,"e":0.05},{"t":1.6,"v":0.41,"e":0.05},{"t":1.7,"v":0.46,"e":0.05},{"t":1.8,"v":0.44,"e":0.06},{"t":1.9,"v":0.43,"e":0.05},{"t":2,"v":0.45,"e":0.06},{"t":2.1,"v":0.42,"e":0.05},{"t":2.2,"v":0.46,"e":0.06},{"t":2.3,"v":0.44,"e":0.05},{"t":2.4,"v":0.42,"e":0.05},{"t":2.5,"v":0.47,"e":0.05},{"t":2.6,"v":0.43,"e":0.06},{"t":2.7,"v":0.41,"e":0.05},{"t":2.8,"v":0.45,"e":0.05},{"t":2.9,"v":0.44,"e":0.06},{"t":3,"v":0.42,"e":0.05},{"t":3.1,"v":0.46,"e":0.05},{"t":3.2,"v":0.43,"e":0.06},{"t":3.3,"v":0.38,"e":0.05},{"t":3.4,"v":0.48,"e":0.06},{"t":3.5,"v":0.45,"e":0.14},{"t":3.6,"v":0.44,"e":0.06},{"t":3.7,"v":0.41,"e":0.05},{"t":3.8,"v":0.43,"e":0.06},{"t":3.9,"v":0.44,"e":0.07},{"t":4,"v":0.42,"e":0.06}],
"ef":[{"t":-2,"v":1},{"t":0,"v":1},{"t":0.05,"v":0.89},{"t":0.1,"v":0.8},{"t":0.15,"v":0.72},{"t":0.2,"v":0.66},{"t":0.3,"v":0.57},{"t":0.4,"v":0.515},{"t":0.5,"v":0.485},{"t":0.6,"v":0.462},{"t":0.8,"v":0.442},{"t":1,"v":0.435},{"t":1.5,"v":0.43},{"t":4,"v":0.43}],
"sa":[{"x":0,"v":1.07,"g":"c"},{"x":0,"v":1.01,"g":"c"},{"x":-0.28,"v":0.98,"g":"c"},{"x":-0.17,"v":0.975,"g":"c"},{"x":-0.06,"v":0.98,"g":"c"},{"x":0.07,"v":0.975,"g":"c"},{"x":0.18,"v":0.975,"g":"c"},{"x":0.3,"v":0.98,"g":"c"},{"x":-0.1,"v":0.955,"g":"c"},{"x":0.06,"v":0.955,"g":"c"},{"x":1.03,"v":0.355,"g":"e"},{"x":1.12,"v":0.26,"g":"e"},{"x":0.92,"v":0.225,"g":"e"},{"x":1.02,"v":0.13,"g":"e"},{"x":0.85,"v":0.06,"g":"e"},{"x":0.96,"v":0.045,"g":"e"},{"x":1.08,"v":0.05,"g":"e"},{"x":1.2,"v":0.065,"g":"e"}],
"ma":[{"g":0,"m":0.985,"s":0.01},{"g":1,"m":0.16,"s":0.04}],
"sb":[{"x":-0.25,"v":0.97,"g":"c"},{"x":-0.15,"v":0.96,"g":"c"},{"x":-0.05,"v":0.98,"g":"c"},{"x":0.05,"v":0.96,"g":"c"},{"x":0.15,"v":0.97,"g":"c"},{"x":0.25,"v":0.95,"g":"c"},{"x":-0.1,"v":0.94,"g":"c"},{"x":0.1,"v":0.94,"g":"c"},{"x":-0.05,"v":0.85,"g":"c"},{"x":0.95,"v":2.12,"g":"e"},{"x":0.95,"v":1.95,"g":"e"},{"x":1.0,"v":1.62,"g":"e"},{"x":0.97,"v":1.45,"g":"e"},{"x":0.95,"v":1.25,"g":"e"},{"x":0.88,"v":1.03,"g":"e"},{"x":1.12,"v":1.07,"g":"e"}],
"mb":[{"g":0,"m":0.95,"s":0.015},{"g":1,"m":1.5,"s":0.18}],
"sf":[{"x":0,"v":1.24,"g":"c"},{"x":0,"v":1.17,"g":"c"},{"x":-0.08,"v":1.03,"g":"c"},{"x":0.08,"v":0.99,"g":"c"},{"x":-0.15,"v":0.95,"g":"c"},{"x":0.15,"v":0.9,"g":"c"},{"x":0.05,"v":0.88,"g":"c"},{"x":-0.05,"v":0.73,"g":"c"},{"x":1,"v":0.87,"g":"e"},{"x":1,"v":0.78,"g":"e"},{"x":0.97,"v":0.64,"g":"e"},{"x":0.93,"v":0.45,"g":"e"},{"x":1.08,"v":0.42,"g":"e"},{"x":1,"v":0.33,"g":"e"},{"x":1.02,"v":0.25,"g":"e"}],
"mf":[{"g":0,"m":0.99,"s":0.06},{"g":1,"m":0.53,"s":0.09}],
"sg":[{"x":-0.3,"v":0.99,"g":"c"},{"x":0,"v":1.02,"g":"c"},{"x":0.25,"v":0.98,"g":"c"},{"x":-0.15,"v":0.95,"g":"c"},{"x":0.1,"v":0.95,"g":"c"},{"x":0.38,"v":0.97,"g":"c"},{"x":0,"v":0.8,"g":"c"},{"x":1,"v":0.96,"g":"e"},{"x":0.85,"v":0.94,"g":"e"},{"x":1.15,"v":0.93,"g":"e"},{"x":0.72,"v":0.92,"g":"e"},{"x":0.95,"v":0.885,"g":"e"},{"x":1.28,"v":0.89,"g":"e"},{"x":1.1,"v":0.86,"g":"e"}],
"mg":[{"g":0,"m":0.95,"s":0.025},{"g":1,"m":0.91,"s":0.015}]
},
"spacing":0,
"vconcat":[
{"spacing":38,"bounds":"flush","hconcat":[
{"width":119,"height":146,"layer":[
{"data":{"values":[{}]},"mark":{"type":"rule","opacity":0},"encoding":{"x":{"datum":0,"axis":null},"x2":{"datum":5},"y":{"datum":1.75,"axis":null}}},
{"data":{"values":[{}]},"mark":{"type":"rule","opacity":0},"encoding":{"x":{"datum":0,"axis":null},"x2":{"datum":5},"y":{"datum":-8.5625,"axis":null}}},
{"data":{"name":"atrb"},"mark":{"type":"line","color":"#2a2a2a","strokeWidth":1,"interpolate":"monotone"},"encoding":{"x":{"field":"t","type":"quantitative","scale":{"domain":[0,183],"nice":false,"zero":false},"axis":null},"y":{"field":"v","type":"quantitative","scale":{"domain":[-8.5625,0.5625],"nice":false,"zero":false},"axis":null}}},
{"data":{"name":"atrg"},"mark":{"type":"line","color":"#5aab4d","strokeWidth":1,"interpolate":"monotone"},"encoding":{"x":{"field":"t","type":"quantitative","axis":null},"y":{"field":"v","type":"quantitative","axis":null}}},
{"data":{"values":[{}]},"mark":{"type":"rule","color":"#3f9b35","strokeWidth":1.6},"encoding":{"x":{"datum":30.8,"axis":null},"y":{"datum":0.31,"axis":null},"y2":{"datum":-5.63}}},
{"data":{"values":[{}]},"mark":{"type":"rule","color":"#3f9b35","strokeWidth":1.6},"encoding":{"x":{"datum":80,"axis":null},"y":{"datum":0.31,"axis":null},"y2":{"datum":-5.63}}},
{"data":{"values":[{}]},"mark":{"type":"rule","color":"#000","strokeWidth":1},"encoding":{"x":{"datum":121.5,"axis":null},"y":{"datum":-3.56,"axis":null},"y2":{"datum":-4.5}}},
{"data":{"values":[{}]},"mark":{"type":"rule","color":"#000","strokeWidth":1},"encoding":{"x":{"datum":121.5,"axis":null},"x2":{"datum":141.5},"y":{"datum":-4.5,"axis":null}}},
{"data":{"values":[{}]},"mark":{"type":"text","text":"1 nA","align":"left"},"encoding":{"x":{"datum":128,"axis":null},"y":{"datum":-4.1,"axis":null}}},
{"data":{"values":[{}]},"mark":{"type":"text","text":"20 ms","align":"center"},"encoding":{"x":{"datum":147,"axis":null},"y":{"datum":-5.15,"axis":null}}},
{"data":{"values":[{}]},"mark":{"type":"text","text":"A","fontSize":11,"fontWeight":"bold","align":"center"},"encoding":{"x":{"datum":9,"axis":null},"y":{"datum":0.94,"axis":null}}}
]},
{"width":160,"height":108,"data":{"name":"ta"},"resolve":{"axis":{"x":"independent","y":"independent"}},"layer":[
{"data":{"values":[{}]},"mark":{"type":"rule","color":"#000","strokeWidth":0.9,"strokeDash":[1.5,1.5]},"encoding":{"x":{"datum":-2,"axis":null},"x2":{"datum":300},"y":{"datum":1,"axis":null}}},
{"data":{"values":[{}]},"mark":{"type":"rule","color":"#3f9b35","strokeWidth":1.6},"encoding":{"x":{"datum":120,"axis":null},"y":{"datum":0,"axis":null},"y2":{"datum":1.4}}},
{"mark":{"type":"errorbar","ticks":true,"size":3,"thickness":0.8,"color":"#000"},"encoding":{"x":{"field":"t","type":"quantitative","axis":null},"y":{"field":"v","type":"quantitative","axis":null},"yError":{"field":"e"}}},
{"mark":{"type":"circle","size":14,"stroke":"#000","strokeWidth":0.8,"opacity":1},"encoding":{"x":{"field":"t","type":"quantitative","scale":{"domain":[-2,300],"nice":false,"zero":false},"axis":{"orient":"bottom","values":[0,60,120,180,240,300],"title":"Time (s)"}},"y":{"field":"v","type":"quantitative","scale":{"domain":[0,1.5],"nice":false,"zero":false},"axis":{"orient":"left","values":[0,0.5,1,1.5],"format":".1f","title":"Norm. EPSC amplitude"}},"fill":{"field":"g","type":"nominal","scale":{"domain":["c","e"],"range":["#ffffff","#111111"]},"legend":null}}},
{"data":{"values":[{}]},"mark":{"type":"text","text":"550 nm"},"encoding":{"x":{"datum":120,"axis":null},"y":{"datum":1.46,"axis":null}}}
]},
{"width":82,"height":108,"resolve":{"axis":{"x":"independent","y":"independent"}},"layer":[
{"data":{"values":[{}]},"mark":{"type":"rule","color":"#000","strokeWidth":1.3,"strokeDash":[2,3]},"encoding":{"x":{"datum":-0.629,"axis":null},"x2":{"datum":1.6},"y":{"datum":1,"axis":null}}},
{"data":{"values":[{}]},"mark":{"type":"rule","color":"#000","strokeWidth":1},"encoding":{"x":{"datum":-0.629,"axis":null},"x2":{"datum":1.286},"y":{"datum":0,"axis":null}}},
{"data":{"name":"sa"},"mark":{"type":"circle","size":16,"stroke":"#000","strokeWidth":0.9,"opacity":1},"encoding":{"x":{"field":"x","type":"quantitative","scale":{"domain":[-0.629,1.714],"nice":false,"zero":false},"axis":{"orient":"bottom","values":[0,1],"labelExpr":"datum.value==0?'Ctrl':'eOPN3'","title":null,"domain":false}},"y":{"field":"v","type":"quantitative","scale":{"domain":[0,1.1],"nice":false,"zero":false},"axis":{"orient":"left","values":[0,0.2,0.4,0.6,0.8,1],"format":".1f","title":"Norm. EPSC 10s after flash","titleFontSize":8}},"fill":{"field":"g","type":"nominal","scale":{"domain":["c","e"],"range":["#ffffff","#111111"]},"legend":null}}},
{"data":{"name":"ma"},"mark":{"type":"tick","orient":"horizontal","size":22,"thickness":1,"color":"#000"},"encoding":{"x":{"field":"g","type":"quantitative","axis":null},"y":{"field":"m","type":"quantitative","axis":null}}},
{"data":{"name":"ma"},"mark":{"type":"errorbar","ticks":true,"size":7,"thickness":1,"color":"#000"},"encoding":{"x":{"field":"g","type":"quantitative","axis":null},"y":{"field":"m","type":"quantitative","axis":null},"yError":{"field":"s"}}},
{"data":{"values":[{}]},"mark":{"type":"rule","color":"#000","strokeWidth":1},"encoding":{"x":{"datum":0,"axis":null},"x2":{"datum":1},"y":{"datum":1.135,"axis":null}}},
{"data":{"values":[{}]},"mark":{"type":"text","text":"*","fontSize":10},"encoding":{"x":{"datum":0.5,"axis":null},"y":{"datum":1.18,"axis":null}}}
]},
{"width":162,"height":108,"resolve":{"axis":{"x":"independent","y":"independent"}},"layer":[
{"data":{"values":[{}]},"mark":{"type":"rule","color":"#3f9b35","strokeWidth":1.6},"encoding":{"x":{"datum":122,"axis":null},"y":{"datum":0,"axis":null},"y2":{"datum":4.7}}},
{"data":{"values":[{}]},"mark":{"type":"rule","color":"#3f9b35","strokeWidth":1.6},"encoding":{"x":{"datum":366,"axis":null},"y":{"datum":0,"axis":null},"y2":{"datum":4.2}}},
{"data":{"name":"d"},"mark":{"type":"circle","size":11,"color":"#000","opacity":1},"encoding":{"x":{"field":"t","type":"quantitative","scale":{"domain":[-15,600],"nice":false,"zero":false},"axis":{"orient":"bottom","values":[0,120,240,360,480,600],"title":"Time (s)"}},"y":{"field":"v","type":"quantitative","scale":{"domain":[0,5],"nice":false,"zero":false},"axis":{"orient":"left","values":[0,1,2,3,4,5],"title":"EPSC amplitude (nA)"}}}},
{"data":{"values":[{}]},"mark":{"type":"text","text":"0.002 mW·s·mm⁻²","align":"left","fontSize":8},"encoding":{"x":{"datum":131,"axis":null},"y":{"datum":4.85,"axis":null}}},
{"data":{"values":[{}]},"mark":{"type":"text","text":"20 mW·s·mm⁻²","align":"left","fontSize":8},"encoding":{"x":{"datum":375,"axis":null},"y":{"datum":4.4,"axis":null}}},
{"data":{"values":[{}]},"mark":{"type":"text","text":"D","fontSize":11,"fontWeight":"bold","align":"center"},"encoding":{"x":{"datum":-110,"axis":null},"y":{"datum":5.32,"axis":null}}}
]},
{"width":104,"height":108,"resolve":{"axis":{"x":"independent","y":"independent"}},"layer":[
{"data":{"name":"dc"},"mark":{"type":"line","color":"#000","strokeWidth":1.1,"interpolate":"monotone"},"encoding":{"x":{"field":"x","type":"quantitative","scale":{"type":"log","domain":[5e-6,316],"nice":false},"axis":{"orient":"bottom","values":[0.0001,0.01,1,100],"labelExpr":"datum.value<0.001?'10⁻⁴':datum.value<0.1?'10⁻²':datum.value<10?'10⁰':'10²'","title":"Light exposure (mW·s·mm⁻²)"}},"y":{"field":"y","type":"quantitative","scale":{"domain":[0,1.06],"nice":false,"zero":false},"axis":{"orient":"left","values":[0,0.2,0.4,0.6,0.8,1],"format":".1f","title":"Effect norm. to max effect"}}}},
{"data":{"name":"dp"},"mark":{"type":"errorbar","ticks":true,"size":5,"thickness":1,"color":"#000"},"encoding":{"x":{"field":"x","type":"quantitative","axis":null},"y":{"field":"y","type":"quantitative","axis":null},"yError":{"field":"e"}}},
{"data":{"name":"dp"},"mark":{"type":"circle","size":10,"color":"#000","opacity":1},"encoding":{"x":{"field":"x","type":"quantitative","axis":null},"y":{"field":"y","type":"quantitative","axis":null}}},
{"data":{"name":"dp"},"mark":{"type":"text","align":"left","dx":4,"dy":3,"fontSize":8},"encoding":{"x":{"field":"x","type":"quantitative","axis":null},"y":{"field":"y","type":"quantitative","axis":null},"text":{"field":"n"}}}
]}
]},
{"spacing":39,"bounds":"flush","hconcat":[
{"width":118,"height":135,"layer":[
{"data":{"values":[{}]},"mark":{"type":"rule","opacity":0},"encoding":{"x":{"datum":0,"axis":null},"x2":{"datum":5},"y":{"datum":1.039,"axis":null}}},
{"data":{"values":[{}]},"mark":{"type":"rule","opacity":0},"encoding":{"x":{"datum":0,"axis":null},"x2":{"datum":5},"y":{"datum":-3.231,"axis":null}}},
{"data":{"values":[{}]},"mark":{"type":"rule","color":"#000","strokeWidth":0.9,"strokeDash":[1.5,1.5]},"encoding":{"x":{"datum":6.7,"axis":null},"x2":{"datum":150.7},"y":{"datum":-1,"axis":null}}},
{"data":{"name":"btrb"},"mark":{"type":"line","color":"#2a2a2a","strokeWidth":1,"interpolate":"monotone"},"encoding":{"x":{"field":"t","type":"quantitative","scale":{"domain":[0,157.3],"nice":false,"zero":false},"axis":null},"y":{"field":"v","type":"quantitative","scale":{"domain":[-3.231,0.488],"nice":false,"zero":false},"axis":null}}},
{"data":{"name":"btrg"},"mark":{"type":"line","color":"#5aab4d","strokeWidth":1,"interpolate":"monotone"},"encoding":{"x":{"field":"t","type":"quantitative","axis":null},"y":{"field":"v","type":"quantitative","axis":null}}},
{"data":{"values":[{}]},"mark":{"type":"rule","color":"#3f9b35","strokeWidth":1.6},"encoding":{"x":{"datum":26.7,"axis":null},"y":{"datum":0.488,"axis":null},"y2":{"datum":-2.4}}},
{"data":{"values":[{}]},"mark":{"type":"rule","color":"#3f9b35","strokeWidth":1.6},"encoding":{"x":{"datum":69.3,"axis":null},"y":{"datum":0.488,"axis":null},"y2":{"datum":-2.4}}},
{"data":{"values":[{}]},"mark":{"type":"rule","color":"#000","strokeWidth":1.3},"encoding":{"x":{"datum":116,"axis":null},"x2":{"datum":136},"y":{"datum":-1.63,"axis":null}}},
{"data":{"values":[{}]},"mark":{"type":"text","text":"20 ms"},"encoding":{"x":{"datum":126,"axis":null},"y":{"datum":-1.9,"axis":null}}},
{"data":{"values":[{}]},"mark":{"type":"text","text":"B","fontSize":11,"fontWeight":"bold","align":"center"},"encoding":{"x":{"datum":6.7,"axis":null},"y":{"datum":0.82,"axis":null}}}
]},
{"width":160,"height":108,"data":{"name":"tb"},"resolve":{"axis":{"x":"independent","y":"independent"}},"layer":[
{"data":{"values":[{}]},"mark":{"type":"rule","color":"#000","strokeWidth":0.9,"strokeDash":[1.5,1.5]},"encoding":{"x":{"datum":-2,"axis":null},"x2":{"datum":300},"y":{"datum":1,"axis":null}}},
{"data":{"values":[{}]},"mark":{"type":"rule","color":"#3f9b35","strokeWidth":1.6},"encoding":{"x":{"datum":120,"axis":null},"y":{"datum":0,"axis":null},"y2":{"datum":2.5}}},
{"mark":{"type":"errorbar","ticks":true,"size":3,"thickness":0.8,"color":"#000"},"encoding":{"x":{"field":"t","type":"quantitative","axis":null},"y":{"field":"v","type":"quantitative","axis":null},"yError":{"field":"e"}}},
{"mark":{"type":"circle","size":14,"stroke":"#000","strokeWidth":0.8,"opacity":1},"encoding":{"x":{"field":"t","type":"quantitative","scale":{"domain":[-2,300],"nice":false,"zero":false},"axis":{"orient":"bottom","values":[0,60,120,180,240,300],"title":"Time (s)"}},"y":{"field":"v","type":"quantitative","scale":{"domain":[0,2.5],"nice":false,"zero":false},"axis":{"orient":"left","values":[0,0.5,1,1.5,2,2.5],"format":".1f","title":"Norm. PPR"}},"fill":{"field":"g","type":"nominal","scale":{"domain":["c","e"],"range":["#ffffff","#111111"]},"legend":null}}}
]},
{"width":66,"height":108,"resolve":{"axis":{"x":"independent","y":"independent"}},"layer":[
{"data":{"values":[{}]},"mark":{"type":"rule","color":"#000","strokeWidth":1.3,"strokeDash":[2,3]},"encoding":{"x":{"datum":-0.579,"axis":null},"x2":{"datum":1.42},"y":{"datum":1,"axis":null}}},
{"data":{"name":"sb"},"mark":{"type":"circle","size":16,"stroke":"#000","strokeWidth":0.9,"opacity":1},"encoding":{"x":{"field":"x","type":"quantitative","scale":{"domain":[-0.579,1.158],"nice":false,"zero":false},"axis":{"orient":"bottom","values":[0,1],"labelExpr":"datum.value==0?'Ctrl':'eOPN3'","title":null}},"y":{"field":"v","type":"quantitative","scale":{"domain":[0,2.5],"nice":false,"zero":false},"axis":{"orient":"left","values":[0,0.5,1,1.5,2,2.5],"format":".1f","title":"Norm. PPR 10s after flash","titleFontSize":8}},"fill":{"field":"g","type":"nominal","scale":{"domain":["c","e"],"range":["#ffffff","#111111"]},"legend":null}}},
{"data":{"name":"mb"},"mark":{"type":"tick","orient":"horizontal","size":22,"thickness":1,"color":"#000"},"encoding":{"x":{"field":"g","type":"quantitative","axis":null},"y":{"field":"m","type":"quantitative","axis":null}}},
{"data":{"name":"mb"},"mark":{"type":"errorbar","ticks":true,"size":7,"thickness":1,"color":"#000"},"encoding":{"x":{"field":"g","type":"quantitative","axis":null},"y":{"field":"m","type":"quantitative","axis":null},"yError":{"field":"s"}}},
{"data":{"values":[{}]},"mark":{"type":"rule","color":"#000","strokeWidth":1},"encoding":{"x":{"datum":0,"axis":null},"x2":{"datum":1},"y":{"datum":2.45,"axis":null}}},
{"data":{"values":[{}]},"mark":{"type":"text","text":"*","fontSize":10},"encoding":{"x":{"datum":0.5,"axis":null},"y":{"datum":2.57,"axis":null}}}
]},
{"width":124,"height":108,"layer":[
{"data":{"name":"etr"},"mark":{"type":"line","strokeWidth":1,"interpolate":"monotone"},"encoding":{"x":{"field":"t","type":"quantitative","scale":{"domain":[0,68.9],"nice":false,"zero":false},"axis":null},"y":{"field":"v","type":"quantitative","scale":{"domain":[-2176,222],"nice":false,"zero":false},"axis":null},"color":{"field":"k","type":"nominal","scale":{"domain":["1","2","3","4","5"],"range":["#86c878","#70ba62","#5cad4f","#4fa043","#439338"]},"legend":null}}},
{"data":{"values":[{}]},"mark":{"type":"rule","color":"#3f9b35","strokeWidth":1.3},"encoding":{"x":{"datum":4.4,"axis":null},"y":{"datum":333,"axis":null},"y2":{"datum":-2153}}},
{"data":{"values":[{}]},"mark":{"type":"rule","color":"#3f9b35","strokeWidth":1.3},"encoding":{"x":{"datum":6.1,"axis":null},"y":{"datum":333,"axis":null},"y2":{"datum":-2153}}},
{"data":{"values":[{}]},"mark":{"type":"rule","color":"#222","strokeWidth":0.7},"encoding":{"x":{"datum":19.8,"axis":null},"x2":{"datum":33.7},"y":{"datum":-666,"axis":null},"y2":{"datum":-866}}},
{"data":{"values":[{}]},"mark":{"type":"rule","color":"#222","strokeWidth":0.7},"encoding":{"x":{"datum":20.6,"axis":null},"x2":{"datum":31.5},"y":{"datum":-926,"axis":null},"y2":{"datum":-1110}}},
{"data":{"values":[{}]},"mark":{"type":"rule","color":"#222","strokeWidth":0.7},"encoding":{"x":{"datum":14.3,"axis":null},"x2":{"datum":28.9},"y":{"datum":-1110,"axis":null},"y2":{"datum":-1348}}},
{"data":{"values":[{}]},"mark":{"type":"rule","color":"#222","strokeWidth":0.7},"encoding":{"x":{"datum":17.8,"axis":null},"x2":{"datum":26.1},"y":{"datum":-1370,"axis":null},"y2":{"datum":-1570}}},
{"data":{"values":[{}]},"mark":{"type":"rule","color":"#222","strokeWidth":0.7},"encoding":{"x":{"datum":19.8,"axis":null},"x2":{"datum":25.4},"y":{"datum":-1776,"axis":null},"y2":{"datum":-1827}}},
{"data":{"values":[{}]},"mark":{"type":"text","text":"5"},"encoding":{"x":{"datum":35.8,"axis":null},"y":{"datum":-888,"axis":null}}},
{"data":{"values":[{}]},"mark":{"type":"text","text":"4"},"encoding":{"x":{"datum":32.6,"axis":null},"y":{"datum":-1132,"axis":null}}},
{"data":{"values":[{}]},"mark":{"type":"text","text":"3"},"encoding":{"x":{"datum":30.6,"axis":null},"y":{"datum":-1370,"axis":null}}},
{"data":{"values":[{}]},"mark":{"type":"text","text":"2"},"encoding":{"x":{"datum":27.8,"axis":null},"y":{"datum":-1592,"axis":null}}},
{"data":{"values":[{}]},"mark":{"type":"text","text":"1"},"encoding":{"x":{"datum":26.9,"axis":null},"y":{"datum":-1849,"axis":null}}},
{"data":{"values":[{}]},"mark":{"type":"rule","color":"#000","strokeWidth":1},"encoding":{"x":{"datum":43.4,"axis":null},"y":{"datum":-1494,"axis":null},"y2":{"datum":-1687}}},
{"data":{"values":[{}]},"mark":{"type":"rule","color":"#000","strokeWidth":1},"encoding":{"x":{"datum":43.4,"axis":null},"x2":{"datum":48.4},"y":{"datum":-1687,"axis":null}}},
{"data":{"values":[{}]},"mark":{"type":"text","text":"200 pA","align":"left"},"encoding":{"x":{"datum":44.6,"axis":null},"y":{"datum":-1592,"axis":null}}},
{"data":{"values":[{}]},"mark":{"type":"text","text":"5 ms","align":"left"},"encoding":{"x":{"datum":45.5,"axis":null},"y":{"datum":-1925,"axis":null}}},
{"data":{"values":[{}]},"mark":{"type":"text","text":"E","fontSize":11,"fontWeight":"bold","align":"center"},"encoding":{"x":{"datum":-3.3,"axis":null},"y":{"datum":488,"axis":null}}}
]},
{"width":161,"height":108,"resolve":{"axis":{"x":"independent","y":"independent"}},"layer":[
{"data":{"values":[{}]},"mark":{"type":"rect","color":"#cfe3c4","opacity":1},"encoding":{"x":{"datum":0,"axis":null},"x2":{"datum":0.5},"y":{"datum":0.2,"axis":null},"y2":{"datum":1.2}}},
{"data":{"values":[{}]},"mark":{"type":"rule","color":"#000","strokeWidth":1.5,"strokeDash":[4,3]},"encoding":{"x":{"datum":0,"axis":null},"x2":{"datum":4},"y":{"datum":1,"axis":null}}},
{"data":{"values":[{}]},"mark":{"type":"rule","color":"#000","strokeWidth":1.2},"encoding":{"x":{"datum":-2,"axis":null},"x2":{"datum":4},"y":{"datum":1.22,"axis":null}}},
{"data":{"values":[{}]},"mark":{"type":"text","text":"10 Hz AP stimulation"},"encoding":{"x":{"datum":1,"axis":null},"y":{"datum":1.28,"axis":null}}},
{"data":{"values":[{}]},"mark":{"type":"text","text":"τ = 0.24 s"},"encoding":{"x":{"datum":2.95,"axis":null},"y":{"datum":0.86,"axis":null}}},
{"data":{"name":"et"},"mark":{"type":"errorbar","ticks":true,"size":3,"thickness":0.8,"color":"#000"},"encoding":{"x":{"field":"t","type":"quantitative","axis":null},"y":{"field":"v","type":"quantitative","axis":null},"yError":{"field":"e"}}},
{"data":{"name":"et"},"mark":{"type":"line","color":"#000","strokeWidth":0.8},"encoding":{"x":{"field":"t","type":"quantitative","axis":null},"y":{"field":"v","type":"quantitative","axis":null}}},
{"data":{"name":"et"},"mark":{"type":"circle","size":9,"color":"#000","opacity":1},"encoding":{"x":{"field":"t","type":"quantitative","scale":{"domain":[-2,4],"nice":false,"zero":false},"axis":{"orient":"bottom","values":[-2,-1,0,1,2,3,4],"title":"Time (s)"}},"y":{"field":"v","type":"quantitative","scale":{"domain":[0.2,1.2],"nice":false,"zero":false},"axis":{"orient":"left","values":[0.2,0.4,0.6,0.8,1,1.2],"format":".1f","title":"Normalized EPSC amplitude"}}}},
{"data":{"name":"ef"},"mark":{"type":"line","color":"#b3202a","strokeWidth":2.2},"encoding":{"x":{"field":"t","type":"quantitative","axis":null},"y":{"field":"v","type":"quantitative","axis":null}}}
]}
]},
{"spacing":14,"bounds":"flush","hconcat":[
{"width":143,"height":108,"layer":[
{"data":{"values":[{}]},"mark":{"type":"rule","opacity":0},"encoding":{"x":{"datum":0,"axis":null},"x2":{"datum":5},"y":{"datum":0.89,"axis":null}}},
{"data":{"name":"ctrb"},"mark":{"type":"line","color":"#2a2a2a","strokeWidth":1,"interpolate":"monotone"},"encoding":{"x":{"field":"t","type":"quantitative","scale":{"domain":[0,178.75],"nice":false,"zero":false},"axis":null},"y":{"field":"v","type":"quantitative","scale":{"domain":[-3.116,0.318],"nice":false,"zero":false},"axis":null}}},
{"data":{"name":"ctrg"},"mark":{"type":"line","color":"#5aab4d","strokeWidth":1,"interpolate":"monotone"},"encoding":{"x":{"field":"t","type":"quantitative","axis":null},"y":{"field":"v","type":"quantitative","axis":null}}},
{"data":{"values":[{}]},"mark":{"type":"rule","color":"#3f9b35","strokeWidth":1.6},"encoding":{"x":{"datum":18.75,"axis":null},"y":{"datum":0.17,"axis":null},"y2":{"datum":-3.06}}},
{"data":{"values":[{}]},"mark":{"type":"rule","color":"#3f9b35","strokeWidth":1.6},"encoding":{"x":{"datum":55,"axis":null},"y":{"datum":0.17,"axis":null},"y2":{"datum":-3.06}}},
{"data":{"values":[{}]},"mark":{"type":"rule","color":"#000","strokeWidth":1},"encoding":{"x":{"datum":98.75,"axis":null},"y":{"datum":-2,"axis":null},"y2":{"datum":-2.5}}},
{"data":{"values":[{}]},"mark":{"type":"rule","color":"#000","strokeWidth":1},"encoding":{"x":{"datum":98.75,"axis":null},"x2":{"datum":118.75},"y":{"datum":-2.5,"axis":null}}},
{"data":{"values":[{}]},"mark":{"type":"text","text":"0.5 nA","align":"left"},"encoding":{"x":{"datum":102.5,"axis":null},"y":{"datum":-2.34,"axis":null}}},
{"data":{"values":[{}]},"mark":{"type":"text","text":"20 ms","align":"left"},"encoding":{"x":{"datum":103.75,"axis":null},"y":{"datum":-2.72,"axis":null}}},
{"data":{"values":[{}]},"mark":{"type":"text","text":"C","fontSize":11,"fontWeight":"bold","align":"center"},"encoding":{"x":{"datum":7.5,"axis":null},"y":{"datum":0.64,"axis":null}}}
]},
{"width":160,"height":108,"data":{"name":"tc"},"resolve":{"axis":{"x":"independent","y":"independent"}},"layer":[
{"data":{"values":[{}]},"mark":{"type":"rule","color":"#000","strokeWidth":0.9,"strokeDash":[1.5,1.5]},"encoding":{"x":{"datum":-2,"axis":null},"x2":{"datum":300},"y":{"datum":1,"axis":null}}},
{"data":{"values":[{}]},"mark":{"type":"rule","color":"#3f9b35","strokeWidth":1.6},"encoding":{"x":{"datum":120,"axis":null},"y":{"datum":0,"axis":null},"y2":{"datum":2.5}}},
{"mark":{"type":"errorbar","ticks":true,"size":3,"thickness":0.8,"color":"#000"},"encoding":{"x":{"field":"t","type":"quantitative","axis":null},"y":{"field":"v","type":"quantitative","axis":null},"yError":{"field":"e"}}},
{"mark":{"type":"circle","size":14,"stroke":"#000","strokeWidth":0.8,"opacity":1},"encoding":{"x":{"field":"t","type":"quantitative","scale":{"domain":[-2,300],"nice":false,"zero":false},"axis":{"orient":"bottom","values":[0,60,120,180,240,300],"title":"Time (s)"}},"y":{"field":"v","type":"quantitative","scale":{"domain":[0,2.5],"nice":false,"zero":false},"axis":{"orient":"left","values":[0,0.5,1,1.5,2,2.5],"format":".1f","title":"Norm. IPSC amp. (●)/ PPR (○)"}},"fill":{"field":"g","type":"nominal","scale":{"domain":["c","e"],"range":["#ffffff","#111111"]},"legend":null}}}
]},
{"width":157,"height":108,"layer":[
{"data":{"values":[{}]},"mark":{"type":"rule","color":"#222","strokeWidth":4.5,"opacity":0.6},"encoding":{"x":{"datum":200,"axis":null},"x2":{"datum":2350},"y":{"datum":-47,"axis":null}}},
{"data":{"values":[{}]},"mark":{"type":"rule","color":"#222","strokeWidth":4.5,"opacity":0.6},"encoding":{"x":{"datum":200,"axis":null},"x2":{"datum":2350},"y":{"datum":-222,"axis":null}}},
{"data":{"values":[{}]},"mark":{"type":"rule","color":"#5aab4d","strokeWidth":4.5,"opacity":0.6},"encoding":{"x":{"datum":200,"axis":null},"x2":{"datum":2350},"y":{"datum":-134,"axis":null}}},
{"data":{"values":[{}]},"mark":{"type":"rule","color":"#5aab4d","strokeWidth":4.5,"opacity":0.6},"encoding":{"x":{"datum":200,"axis":null},"x2":{"datum":2350},"y":{"datum":-306,"axis":null}}},
{"data":{"name":"ftrb"},"mark":{"type":"line","color":"#222","strokeWidth":1},"encoding":{"x":{"field":"t","type":"quantitative","scale":{"domain":[0,2857],"nice":false,"zero":false},"axis":null},"y":{"field":"v","type":"quantitative","scale":{"domain":[-337.5,0],"nice":false,"zero":false},"axis":null},"detail":{"field":"k"}}},
{"data":{"name":"ftrg"},"mark":{"type":"line","color":"#5aab4d","strokeWidth":1},"encoding":{"x":{"field":"t","type":"quantitative","axis":null},"y":{"field":"v","type":"quantitative","axis":null},"detail":{"field":"k"}}},
{"data":{"name":"fspb"},"mark":{"type":"rule","color":"#222","strokeWidth":0.9},"encoding":{"x":{"field":"t","type":"quantitative","axis":null},"y":{"field":"b","type":"quantitative","axis":null},"y2":{"field":"v"}}},
{"data":{"name":"fspg"},"mark":{"type":"rule","color":"#5aab4d","strokeWidth":0.9},"encoding":{"x":{"field":"t","type":"quantitative","axis":null},"y":{"field":"b","type":"quantitative","axis":null},"y2":{"field":"v"}}},
{"data":{"values":[{}]},"mark":{"type":"rule","color":"#000","strokeWidth":1},"encoding":{"x":{"datum":1905,"axis":null},"y":{"datum":-332,"axis":null},"y2":{"datum":-381}}},
{"data":{"values":[{}]},"mark":{"type":"rule","color":"#000","strokeWidth":1},"encoding":{"x":{"datum":1905,"axis":null},"x2":{"datum":2105},"y":{"datum":-381,"axis":null}}},
{"data":{"values":[{}]},"mark":{"type":"text","text":"50 pA","align":"left"},"encoding":{"x":{"datum":1966,"axis":null},"y":{"datum":-359,"axis":null}}},
{"data":{"values":[{}]},"mark":{"type":"text","text":"200 ms","align":"left"},"encoding":{"x":{"datum":1947,"axis":null},"y":{"datum":-406,"axis":null}}},
{"data":{"values":[{}]},"mark":{"type":"text","text":"Ctrl","align":"left"},"encoding":{"x":{"datum":164,"axis":null},"y":{"datum":-15,"axis":null}}},
{"data":{"values":[{}]},"mark":{"type":"text","text":"eOPN3","align":"left"},"encoding":{"x":{"datum":182,"axis":null},"y":{"datum":-181,"axis":null}}},
{"data":{"values":[{}]},"mark":{"type":"text","text":"F","fontSize":11,"fontWeight":"bold","align":"center"},"encoding":{"x":{"datum":45,"axis":null},"y":{"datum":31,"axis":null}}}
]},
{"width":60,"height":108,"resolve":{"axis":{"x":"independent","y":"independent"}},"layer":[
{"data":{"values":[{}]},"mark":{"type":"rule","color":"#000","strokeWidth":1.3,"strokeDash":[2,3]},"encoding":{"x":{"datum":-0.571,"axis":null},"x2":{"datum":1.857},"y":{"datum":1,"axis":null}}},
{"data":{"name":"sf"},"mark":{"type":"circle","size":16,"stroke":"#000","strokeWidth":0.9,"opacity":1},"encoding":{"x":{"field":"x","type":"quantitative","scale":{"domain":[-0.571,1.143],"nice":false,"zero":false},"axis":{"orient":"bottom","values":[0,1],"labelExpr":"datum.value==0?'Ctrl':'eOPN3'","title":null}},"y":{"field":"v","type":"quantitative","scale":{"domain":[0,1.5],"nice":false,"zero":false},"axis":{"orient":"left","values":[0,0.5,1,1.5],"format":".1f","title":"Norm. mEPSC freq."}},"fill":{"field":"g","type":"nominal","scale":{"domain":["c","e"],"range":["#ffffff","#111111"]},"legend":null}}},
{"data":{"name":"mf"},"mark":{"type":"tick","orient":"horizontal","size":18,"thickness":1,"color":"#000"},"encoding":{"x":{"field":"g","type":"quantitative","axis":null},"y":{"field":"m","type":"quantitative","axis":null}}},
{"data":{"name":"mf"},"mark":{"type":"errorbar","ticks":true,"size":7,"thickness":1,"color":"#000"},"encoding":{"x":{"field":"g","type":"quantitative","axis":null},"y":{"field":"m","type":"quantitative","axis":null},"yError":{"field":"s"}}},
{"data":{"values":[{}]},"mark":{"type":"rule","color":"#000","strokeWidth":1},"encoding":{"x":{"datum":0,"axis":null},"x2":{"datum":1},"y":{"datum":1.39,"axis":null}}},
{"data":{"values":[{}]},"mark":{"type":"text","text":"*","fontSize":10},"encoding":{"x":{"datum":0.5,"axis":null},"y":{"datum":1.46,"axis":null}}}
]},
{"width":122,"height":108,"layer":[
{"data":{"name":"gtrb"},"mark":{"type":"line","color":"#222","strokeWidth":1.2,"interpolate":"monotone"},"encoding":{"x":{"field":"t","type":"quantitative","scale":{"domain":[0,79.3],"nice":false,"zero":false},"axis":null},"y":{"field":"v","type":"quantitative","scale":{"domain":[-81,0],"nice":false,"zero":false},"axis":null},"detail":{"field":"k"}}},
{"data":{"name":"gtrg"},"mark":{"type":"line","color":"#5aab4d","strokeWidth":1,"interpolate":"monotone"},"encoding":{"x":{"field":"t","type":"quantitative","axis":null},"y":{"field":"v","type":"quantitative","axis":null},"detail":{"field":"k"}}},
{"data":{"values":[{}]},"mark":{"type":"rule","color":"#000","strokeWidth":1},"encoding":{"x":{"datum":44.4,"axis":null},"y":{"datum":-24.75,"axis":null},"y2":{"datum":-29.8}}},
{"data":{"values":[{}]},"mark":{"type":"rule","color":"#000","strokeWidth":1},"encoding":{"x":{"datum":44.4,"axis":null},"x2":{"datum":49.4},"y":{"datum":-29.8,"axis":null}}},
{"data":{"values":[{}]},"mark":{"type":"rule","color":"#000","strokeWidth":1},"encoding":{"x":{"datum":44.4,"axis":null},"y":{"datum":-67.7,"axis":null},"y2":{"datum":-74}}},
{"data":{"values":[{}]},"mark":{"type":"rule","color":"#000","strokeWidth":1},"encoding":{"x":{"datum":44.4,"axis":null},"x2":{"datum":49.4},"y":{"datum":-74,"axis":null}}},
{"data":{"values":[{}]},"mark":{"type":"text","text":"5 pA","align":"left"},"encoding":{"x":{"datum":45.3,"axis":null},"y":{"datum":-27.2,"axis":null}}},
{"data":{"values":[{}]},"mark":{"type":"text","text":"5 ms","align":"left"},"encoding":{"x":{"datum":45,"axis":null},"y":{"datum":-36,"axis":null}}},
{"data":{"values":[{}]},"mark":{"type":"text","text":"5 pA","align":"left"},"encoding":{"x":{"datum":45.3,"axis":null},"y":{"datum":-70.3,"axis":null}}},
{"data":{"values":[{}]},"mark":{"type":"text","text":"5 ms","align":"left"},"encoding":{"x":{"datum":45,"axis":null},"y":{"datum":-78.5,"axis":null}}},
{"data":{"values":[{}]},"mark":{"type":"text","text":"Ctrl","align":"left"},"encoding":{"x":{"datum":9.1,"axis":null},"y":{"datum":-3.5,"axis":null}}},
{"data":{"values":[{}]},"mark":{"type":"text","text":"eOPN3","align":"left"},"encoding":{"x":{"datum":9.1,"axis":null},"y":{"datum":-48.2,"axis":null}}},
{"data":{"values":[{}]},"mark":{"type":"text","text":"G","fontSize":11,"fontWeight":"bold","align":"center"},"encoding":{"x":{"datum":1.5,"axis":null},"y":{"datum":7.5,"axis":null}}}
]},
{"width":62,"height":108,"resolve":{"axis":{"x":"independent","y":"independent"}},"layer":[
{"data":{"values":[{}]},"mark":{"type":"rule","color":"#000","strokeWidth":1.3,"strokeDash":[2,3]},"encoding":{"x":{"datum":-0.645,"axis":null},"x2":{"datum":1.63},"y":{"datum":1,"axis":null}}},
{"data":{"name":"sg"},"mark":{"type":"circle","size":16,"stroke":"#000","strokeWidth":0.9,"opacity":1},"encoding":{"x":{"field":"x","type":"quantitative","scale":{"domain":[-0.645,1.355],"nice":false,"zero":false},"axis":{"orient":"bottom","values":[0,1],"labelExpr":"datum.value==0?'Ctrl':'eOPN3'","title":null}},"y":{"field":"v","type":"quantitative","scale":{"domain":[0,1.5],"nice":false,"zero":false},"axis":{"orient":"left","values":[0,0.5,1,1.5],"format":".1f","title":"Norm. mEPSC amplitude"}},"fill":{"field":"g","type":"nominal","scale":{"domain":["c","e"],"range":["#ffffff","#111111"]},"legend":null}}},
{"data":{"name":"mg"},"mark":{"type":"tick","orient":"horizontal","size":23,"thickness":1,"color":"#000"},"encoding":{"x":{"field":"g","type":"quantitative","axis":null},"y":{"field":"m","type":"quantitative","axis":null}}},
{"data":{"name":"mg"},"mark":{"type":"errorbar","ticks":true,"size":7,"thickness":1,"color":"#000"},"encoding":{"x":{"field":"g","type":"quantitative","axis":null},"y":{"field":"m","type":"quantitative","axis":null},"yError":{"field":"s"}}},
{"data":{"values":[{}]},"mark":{"type":"rule","color":"#000","strokeWidth":1},"encoding":{"x":{"datum":-0.27,"axis":null},"x2":{"datum":1.32},"y":{"datum":1.38,"axis":null}}},
{"data":{"values":[{}]},"mark":{"type":"text","text":"n.s."},"encoding":{"x":{"datum":0.52,"axis":null},"y":{"datum":1.46,"axis":null}}}
]}
]}
]
}
